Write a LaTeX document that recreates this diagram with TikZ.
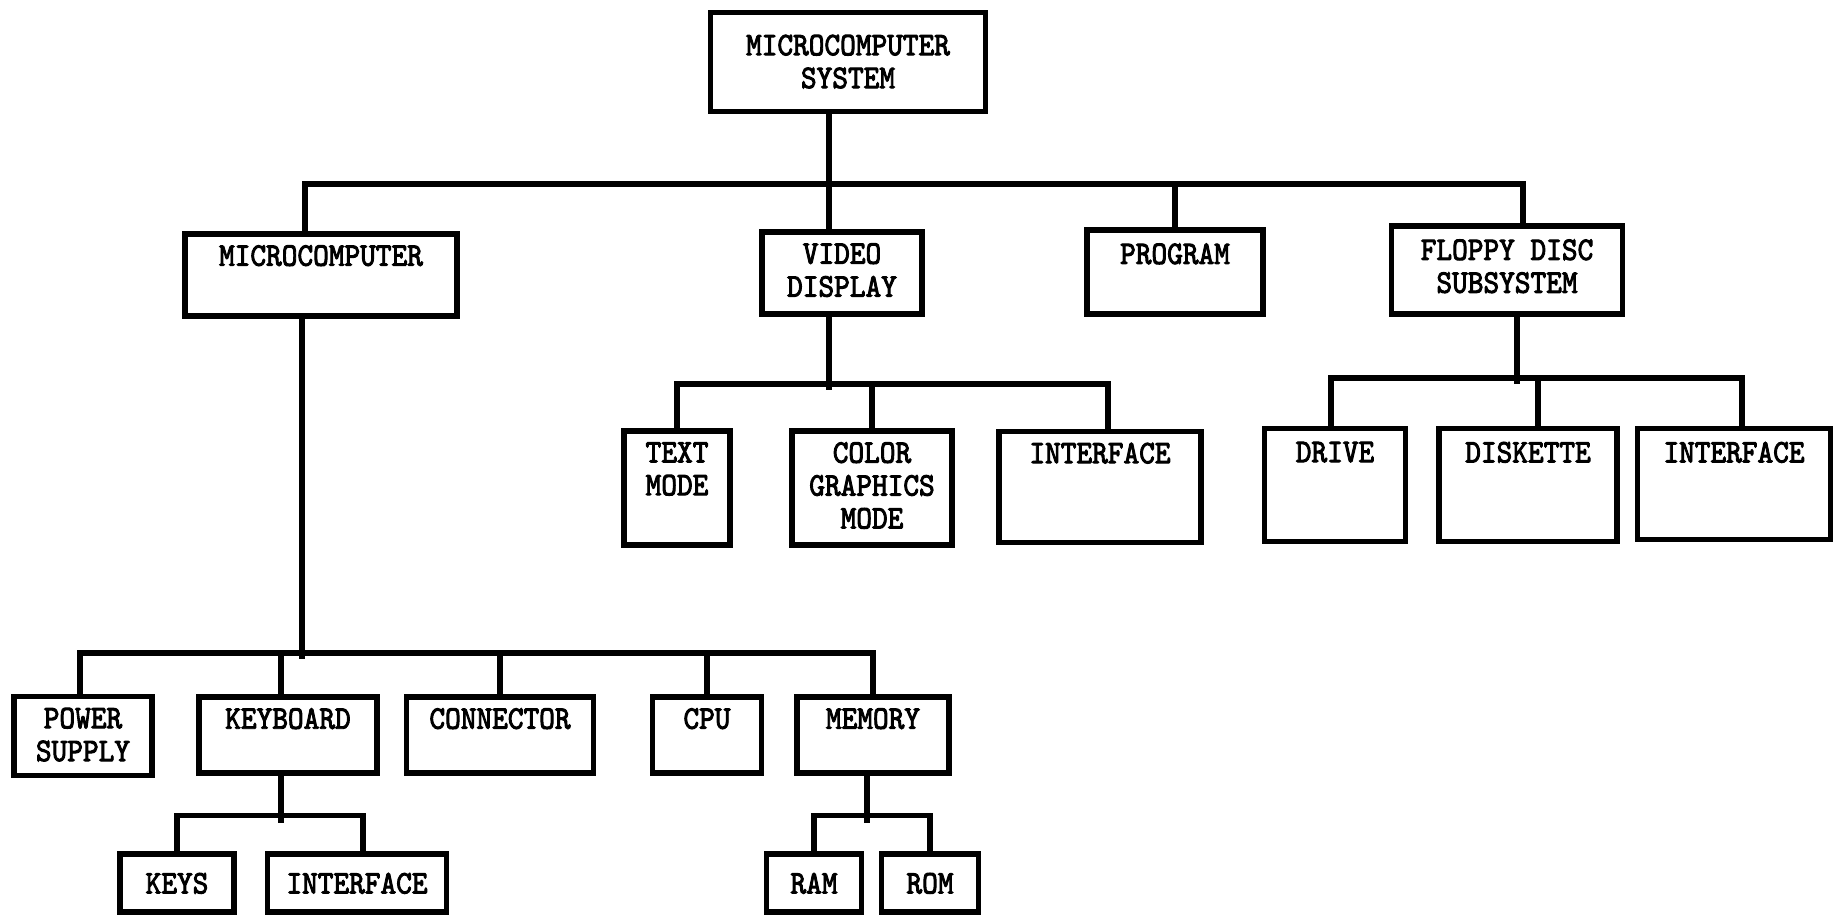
\documentclass[tikz,border=0pt]{standalone}
\usepackage{fontspec}
\newfontfamily\boxfont{lmmono10-regular.otf}[AutoFakeBold=3]

\begin{document}
\begin{tikzpicture}[line width=1.6pt,
	Edge/.style={black,line width=1.6pt},
	Box/.style={rectangle,draw=black,line width=1.6pt,inner sep=0pt},
	Txt/.style={anchor=north,inner sep=0pt,align=center,yscale=1.1,
		font=\boxfont\bfseries\fontsize{8.5}{8.5}\selectfont},
]
	\useasboundingbox (0,0) rectangle (18.37,9.16);

	% top
	\node[Box,minimum width=2.75cm,minimum height=0.99cm,label={[Txt,yshift=-2mm]north:MICROCOMPUTER\\SYSTEM}] (sys) at (8.48,8.54){};

	% second row
	\node[Box,minimum width=2.72cm,minimum height=0.82cm,label={[Txt,yshift=-1mm]north:MICROCOMPUTER}] (micro) at (3.21,6.41){};
	\node[Box,minimum width=1.60cm,minimum height=0.82cm,label={[Txt,yshift=-1mm]north:VIDEO\\DISPLAY}] (vd) at (8.42,6.43){};
	\node[Box,minimum width=1.76cm,minimum height=0.84cm,label={[Txt,yshift=-1.2mm]north:PROGRAM}] (prog) at (11.75,6.44){};
	\node[Box,minimum width=2.31cm,minimum height=0.88cm,label={[Txt,yshift=-1.2mm]north:FLOPPY DISC\\SUBSYSTEM}] (floppy) at (15.07,6.46){};

	% under video display
	\node[Box,minimum width=1.06cm,minimum height=1.14cm,label={[Txt,yshift=-1mm]north:TEXT\\MODE}] (textm) at (6.77,4.28){};
	\node[Box,minimum width=1.60cm,minimum height=1.14cm,label={[Txt,yshift=-1mm]north:COLOR\\GRAPHICS\\MODE}] (color) at (8.72,4.28){};
	\node[Box,minimum width=2.02cm,minimum height=1.11cm,label={[Txt,yshift=-1mm]north:INTERFACE}] (vdif) at (11.00,4.29){};

	% under floppy disc
	\node[Box,minimum width=1.41cm,minimum height=1.13cm,label={[Txt,yshift=-1.2mm]north:DRIVE}] (drive) at (13.35,4.31){};
	\node[Box,minimum width=1.78cm,minimum height=1.13cm,label={[Txt,yshift=-1.2mm]north:DISKETTE}] (disk) at (15.28,4.31){};
	\node[Box,minimum width=1.93cm,minimum height=1.11cm,label={[Txt,yshift=-1.2mm]north:INTERFACE}] (fdif) at (17.34,4.32){};

	% under microcomputer
	\node[Box,minimum width=1.38cm,minimum height=0.79cm,label={[Txt,yshift=-1mm]north:POWER\\SUPPLY}] (power) at (0.83,1.80){};
	\node[Box,minimum width=1.78cm,minimum height=0.76cm,label={[Txt,yshift=-1mm]north:KEYBOARD}] (kbd) at (2.88,1.81){};
	\node[Box,minimum width=1.87cm,minimum height=0.76cm,label={[Txt,yshift=-1mm]north:CONNECTOR}] (conn) at (5.00,1.81){};
	\node[Box,minimum width=1.09cm,minimum height=0.76cm,label={[Txt,yshift=-1mm]north:CPU}] (cpu) at (7.07,1.81){};
	\node[Box,minimum width=1.52cm,minimum height=0.76cm,label={[Txt,yshift=-1mm]north:MEMORY}] (mem) at (8.73,1.81){};

	% bottom row
	\node[Box,minimum width=1.14cm,minimum height=0.58cm,label={[Txt,yshift=-1.7mm]north:KEYS}] (keys) at (1.77,0.33){};
	\node[Box,minimum width=1.79cm,minimum height=0.58cm,label={[Txt,yshift=-1.7mm]north:INTERFACE}] (kbif) at (3.57,0.33){};
	\node[Box,minimum width=0.95cm,minimum height=0.58cm,label={[Txt,yshift=-1.7mm]north:RAM}] (ram) at (8.14,0.33){};
	\node[Box,minimum width=0.97cm,minimum height=0.58cm,label={[Txt,yshift=-1.7mm]north:ROM}] (rom) at (9.30,0.33){};

	% connectors
	\draw[Edge] ([xshift=-1.3mm]vd.north) -- ++(0,1.205);
	\draw[Edge] ([xshift=-1.6mm]micro.north) -- ++(0,0.47) -| ([xshift=1.6mm]floppy.north);
	\draw[Edge] (prog.north) -- ++(0,0.43);

	\draw[Edge] ([xshift=-1.3mm]vd.south) -- ++(0,-0.73);
	\draw[Edge] (textm.north) -- ++(0,0.44) -| ([xshift=0.8mm]vdif.north);
	\draw[Edge] (color.north) -- ++(0,0.44);

	\draw[Edge] ([xshift=1mm]floppy.south) -- ++(0,-0.67);
	\draw[Edge] ([xshift=-0.4mm]drive.north) -- ++(0,0.475) -| ([xshift=0.8mm]fdif.north);
	\draw[Edge] ([xshift=1mm]disk.north) -- ++(0,0.475);

	\draw[Edge] ([xshift=-1.9mm]micro.south) -- ++(0,-3.40);
	\draw[Edge] ([xshift=-0.3mm]power.north) -- ++(0,0.405) -| (mem.north);
	\draw[Edge] ([xshift=-0.7mm]kbd.north) -- ++(0,0.41);
	\draw[Edge] (conn.north) -- ++(0,0.41);
	\draw[Edge] (cpu.north) -- ++(0,0.41);

	\draw[Edge] ([xshift=-0.7mm]kbd.south) -- ++(0,-0.47);
	\draw[Edge] (keys.north) -- ++(0,0.355) -| ([xshift=0.6mm]kbif.north);
	\draw[Edge] ([xshift=-0.6mm]mem.south) -- ++(0,-0.47);
	\draw[Edge] (ram.north) -- ++(0,0.355) -| (rom.north);
\end{tikzpicture}
\end{document}
